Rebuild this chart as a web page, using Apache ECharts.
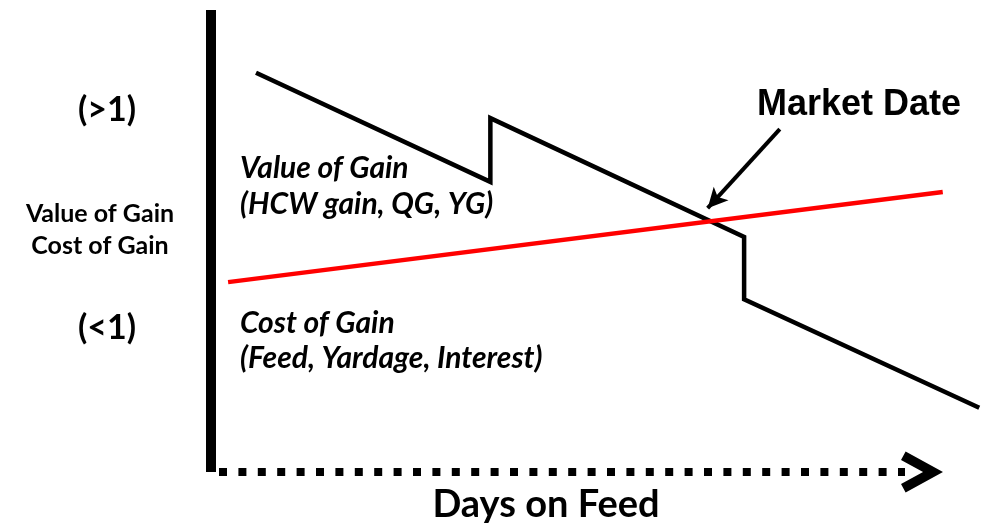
<!DOCTYPE html>
<html>
<head>
<meta charset="utf-8">
<title>Value of Gain vs Cost of Gain</title>
<script src="https://cdn.jsdelivr.net/npm/echarts@6/dist/echarts.min.js"></script>
<style>
    html, body { margin: 0; padding: 0; background: #fff; }
    #chart { width: 987px; height: 523px; }
</style>
</head>
<body>
<div id="chart"></div>
<script>
// ============================
// 数据 (从图中读取, 横轴 0-100 = 饲喂天数比例, 纵轴 0-100 = 比值)
// ============================
const valueGainX = [5.8, 36.0, 36.0, 68.7, 68.7, 99.0];
const valueGainY = [86.4, 62.8, 76.6, 50.9, 37.4, 13.9];

const costGainX = [2.2, 94.3];
const costGainY = [41.1, 60.6];

// Market Date 箭头 (起点 -> 终点)
const marketArrowX = [73.3, 64.0];
const marketArrowY = [74.2, 57.1];

const yTickValues = [31.2, 78.4];
const yTickLabels = ['(<1)', '(>1)'];

const pairs = (xs, ys) => xs.map((x, i) => [x, ys[i]]);

// 横轴末端的 V 形箭头
const chevron = 'path://M20,-5.4 L41.4,33.6 L32.6,38.4 L20,15.4 L7.4,38.4 L-1.4,33.6 Z';

const chart = echarts.init(document.getElementById('chart'));
chart.setOption({
    animation: false,
    grid: [
        // 0: 数据区
        { left: 211, right: 0, top: 10, bottom: 51, outerBoundsMode: 'none' },
        // 1: 只画虚线横轴 + 箭头
        { left: 211, right: 82, top: 10, bottom: 51, outerBoundsMode: 'none' }
    ],
    xAxis: [
        {
            gridIndex: 0,
            type: 'value',
            min: 0,
            max: 100,
            show: false
        },
        {
            gridIndex: 1,
            type: 'value',
            min: 0,
            max: 100,
            name: 'Days on Feed',
            nameLocation: 'middle',
            nameGap: 14,
            nameTextStyle: {
                fontFamily: 'Lato', fontWeight: 'bold', fontSize: 38, color: '#000',
                padding: [0, 24, 0, 0]
            },
            axisLine: {
                show: true,
                onZero: false,
                symbol: ['none', chevron],
                symbolSize: [41, 42],
                symbolOffset: [0, 17],
                lineStyle: { color: '#000', width: 8, type: [8, 11.4], dashOffset: 11.4, cap: 'butt' }
            },
            axisTick: { show: false },
            axisLabel: { show: false },
            splitLine: { show: false }
        }
    ],
    yAxis: [
        {
            gridIndex: 0,
            type: 'value',
            min: 0,
            max: 100,
            axisLine: {
                show: true,
                onZero: false,
                lineStyle: { color: '#000', width: 10, cap: 'butt' }
            },
            axisTick: { show: false },
            axisLabel: {
                customValues: yTickValues,
                formatter: v => yTickLabels[yTickValues.indexOf(v)] || '',
                fontFamily: 'Lato', fontWeight: 'bold', fontSize: 34, color: '#000',
                align: 'center',
                margin: 104
            },
            splitLine: { show: false }
        },
        {
            gridIndex: 1,
            type: 'value',
            min: 0,
            max: 100,
            show: false
        }
    ],
    series: [
        {
            name: 'Value of Gain',
            type: 'line',
            data: pairs(valueGainX, valueGainY),
            symbol: 'none',
            clip: false,
            lineStyle: { color: '#000', width: 4.5, join: 'miter' }
        },
        {
            name: 'Cost of Gain',
            type: 'line',
            data: pairs(costGainX, costGainY),
            symbol: 'none',
            clip: false,
            lineStyle: { color: '#ff0000', width: 4.5 },
            markLine: {
                silent: true,
                symbol: ['none', 'arrow'],
                symbolSize: [15, 20],
                label: { show: false },
                lineStyle: { color: '#000', width: 4, type: 'solid' },
                data: [[
                    { coord: [marketArrowX[0], marketArrowY[0]] },
                    { coord: [marketArrowX[1], marketArrowY[1]] }
                ]]
            }
        }
    ],
    graphic: [
        // 纵轴名称
        {
            type: 'text', x: 100, y: 230,
            style: {
                text: 'Value of Gain\nCost of Gain',
                font: 'bold 25px Lato', fill: '#000', lineHeight: 32,
                align: 'center', verticalAlign: 'middle'
            }
        },
        {
            type: 'text', left: 240, top: 150,
            style: {
                text: 'Value of Gain\n(HCW gain, QG, YG)',
                font: 'italic bold 30px Lato', fill: '#000', lineHeight: 36
            }
        },
        {
            type: 'text', left: 240, top: 306,
            style: {
                text: 'Cost of Gain\n(Feed, Yardage, Interest)',
                font: 'italic bold 30px Lato', fill: '#000', lineHeight: 35
            }
        },
        {
            type: 'text', left: 757, top: 87,
            style: {
                text: 'Market Date',
                font: 'bold 36px "Liberation Sans"', fill: '#000'
            }
        }
    ]
});
</script>
</body>
</html>
